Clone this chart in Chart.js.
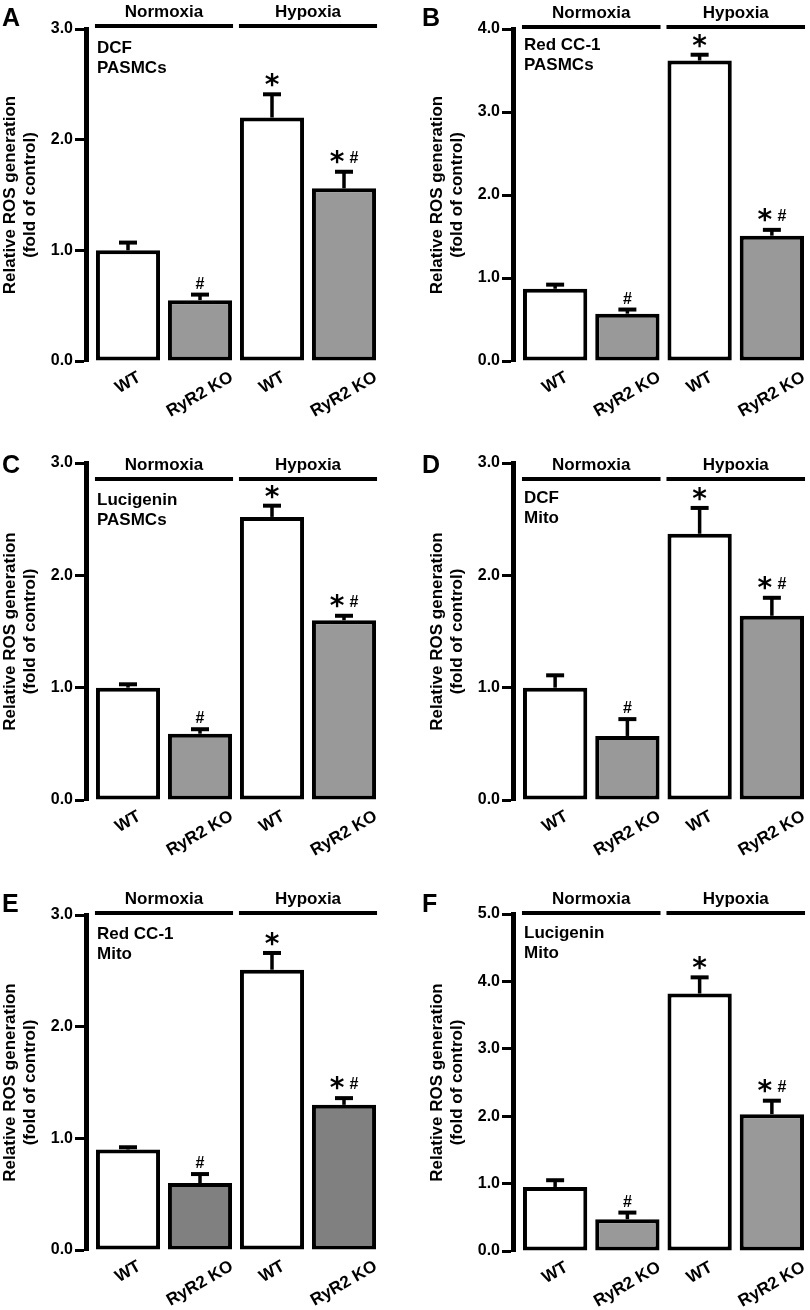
<!DOCTYPE html>
<html>
<head>
<meta charset="utf-8">
<script src="https://cdn.jsdelivr.net/npm/chart.js@4.4.1/dist/chart.umd.min.js"></script>
<style>
  body { margin: 0; background: #fff; width: 810px; height: 1310px; position: relative; overflow: hidden; }
  canvas { position: absolute; }
</style>
</head>
<body>
<canvas id="pA" width="405" height="430" style="left:0;top:0"></canvas>
<canvas id="pB" width="405" height="430" style="left:405px;top:0"></canvas>
<canvas id="pC" width="405" height="440" style="left:0;top:430px"></canvas>
<canvas id="pD" width="405" height="440" style="left:405px;top:430px"></canvas>
<canvas id="pE" width="405" height="440" style="left:0;top:870px"></canvas>
<canvas id="pF" width="405" height="440" style="left:405px;top:870px"></canvas>
<script>
// categories
const groups = ['WT', 'RyR2 KO', 'WT', 'RyR2 KO'];
const conditions = ['Normoxia', 'Hypoxia'];
// significance marks over each bar
const marks = ['', '#', '*', '*#'];

// mean and SEM per panel (fold of control)
const meanA = [1.00, 0.55, 2.20, 1.56];
const semA  = [0.07, 0.05, 0.21, 0.15];
const meanB = [0.87, 0.57, 3.62, 1.51];
const semB  = [0.05, 0.05, 0.07, 0.07];
const meanC = [1.00, 0.59, 2.52, 1.60];
const semC  = [0.03, 0.04, 0.10, 0.04];
const meanD = [1.00, 0.57, 2.37, 1.64];
const semD  = [0.11, 0.15, 0.23, 0.16];
const meanE = [0.90, 0.60, 2.51, 1.30];
const semE  = [0.02, 0.08, 0.15, 0.06];
const meanF = [0.95, 0.47, 3.82, 2.03];
const semF  = [0.10, 0.10, 0.24, 0.20];

// y axis maxima and probe labels
const yMax = [3, 4, 3, 3, 3, 5];
const probes = [
  ['DCF', 'PASMCs'],
  ['Red CC-1', 'PASMCs'],
  ['Lucigenin', 'PASMCs'],
  ['DCF', 'Mito'],
  ['Red CC-1', 'Mito'],
  ['Lucigenin', 'Mito']
];
const letters = ['A', 'B', 'C', 'D', 'E', 'F'];

const means = [meanA, meanB, meanC, meanD, meanE, meanF];
const sems = [semA, semB, semC, semD, semE, semF];

// layout of each panel canvas
const boxes = [
  {id: 'pA', h: 430, padL: 0,  padR: 25, top: 29, bottom: 361, head: -3, note: 19, lx: 2,  ly: 26, gray: '#999999'},
  {id: 'pB', h: 430, padL: 22, padR: 2,  top: 29, bottom: 361, head: -2, note: 16, lx: 17, ly: 26, gray: '#999999'},
  {id: 'pC', h: 440, padL: 0,  padR: 25, top: 33, bottom: 370, head: 16, note: 37, lx: 2,  ly: 43, gray: '#999999'},
  {id: 'pD', h: 440, padL: 22, padR: 2,  top: 33, bottom: 370, head: 16, note: 35, lx: 17, ly: 43, gray: '#999999'},
  {id: 'pE', h: 440, padL: 0,  padR: 25, top: 45, bottom: 380, head: -2, note: 19, lx: 2,  ly: 42, gray: '#808080'},
  {id: 'pF', h: 440, padL: 22, padR: 2,  top: 44, bottom: 381, head: -1, note: 19, lx: 17, ly: 42, gray: '#999999'}
];

const FONT = '"Liberation Sans", Arial, Helvetica, sans-serif';
Chart.defaults.font.family = FONT;
Chart.defaults.color = '#000';

function glyph(ctx, t, cx, cy) {
  const m = ctx.measureText(t);
  ctx.fillText(t, cx, cy + (m.actualBoundingBoxAscent - m.actualBoundingBoxDescent) / 2);
}

const decor = {
  id: 'decor',
  afterLayout(chart) {
    // small gap between the y axis line and the first bar
    const x = chart.scales.x;
    x.left += 6;
    x.configure();
  },
  afterDatasetsDraw(chart, args, o) {
    const {ctx, chartArea: area, scales: {y}} = chart;
    const bars = chart.getDatasetMeta(0).data;
    ctx.save();
    ctx.fillStyle = '#000';
    ctx.strokeStyle = '#000';
    ctx.lineCap = 'butt';

    // error bars + significance
    bars.forEach((bar, i) => {
      const yt = y.getPixelForValue(o.mean[i]);
      const ye = y.getPixelForValue(o.mean[i] + o.sem[i]);
      ctx.lineWidth = 3.5;
      ctx.beginPath(); ctx.moveTo(bar.x, yt); ctx.lineTo(bar.x, ye); ctx.stroke();
      ctx.lineWidth = 4;
      ctx.beginPath(); ctx.moveTo(bar.x - 9, ye); ctx.lineTo(bar.x + 9, ye); ctx.stroke();

      ctx.textAlign = 'center';
      ctx.textBaseline = 'alphabetic';
      const star = 'bold 28px "DejaVu Sans", sans-serif';
      const hash = 'bold 16px ' + FONT;
      if (marks[i] === '*') {
        ctx.font = star; glyph(ctx, '*', bar.x, ye - 14);
      } else if (marks[i] === '#') {
        ctx.font = hash; glyph(ctx, '#', bar.x, ye - 12);
      } else if (marks[i] === '*#') {
        ctx.font = star; glyph(ctx, '*', bar.x - 7, ye - 15);
        ctx.font = hash; glyph(ctx, '#', bar.x + 10, ye - 15);
      }
    });

    // condition headers
    ctx.lineWidth = 4;
    conditions.forEach((c, g) => {
      const b0 = bars[g * 2], b1 = bars[g * 2 + 1];
      const x0 = b0.x - b0.width / 2 - 1, x1 = b1.x + b1.width / 2 + 1;
      const ly = area.top + o.head;
      ctx.beginPath(); ctx.moveTo(x0, ly); ctx.lineTo(x1, ly); ctx.stroke();
      ctx.font = 'bold 17px ' + FONT;
      ctx.textAlign = 'center';
      ctx.textBaseline = 'middle';
      ctx.fillText(c, (x0 + x1) / 2, ly - 14);
    });

    // probe / sample note
    ctx.font = 'bold 17px ' + FONT;
    ctx.textAlign = 'left';
    ctx.textBaseline = 'middle';
    o.probe.forEach((t, k) => ctx.fillText(t, area.left + 11, area.top + o.note + k * 20));

    // rotated group labels
    ctx.font = 'bold 17px ' + FONT;
    const ang = Math.PI / 6;
    bars.forEach((bar, i) => {
      const w = ctx.measureText(groups[i]).width;
      const half = w / 2 * Math.sin(ang) + 6 * Math.cos(ang);
      ctx.save();
      ctx.translate(bar.x, area.bottom + 10 + half);
      ctx.rotate(-ang);
      ctx.textAlign = 'center';
      ctx.textBaseline = 'middle';
      ctx.fillText(groups[i], 0, 0);
      ctx.restore();
    });

    // panel letter
    ctx.font = 'bold 25px ' + FONT;
    ctx.textAlign = 'left';
    ctx.textBaseline = 'alphabetic';
    ctx.fillText(o.letter, o.lx, o.ly);
    ctx.restore();
  }
};

boxes.forEach((b, p) => {
  const ctx = document.getElementById(b.id);
  new Chart(ctx, {
    type: 'bar',
    data: {
      labels: groups,
      datasets: [{
        data: means[p],
        backgroundColor: ['#ffffff', b.gray, '#ffffff', b.gray],
        borderColor: '#000',
        borderWidth: 4,
        borderSkipped: false,
        barPercentage: 0.89,
        categoryPercentage: 1
      }]
    },
    options: {
      responsive: false,
      animation: false,
      events: [],
      layout: {padding: {left: b.padL, right: b.padR, top: b.top, bottom: 0}},
      plugins: {
        legend: {display: false},
        tooltip: {enabled: false},
        decor: {
          mean: means[p], sem: sems[p], probe: probes[p], letter: letters[p],
          head: b.head, note: b.note, lx: b.lx, ly: b.ly
        }
      },
      scales: {
        x: {
          type: 'category',
          grid: {display: false},
          border: {display: false},
          ticks: {display: false},
          afterFit: (s) => { s.height = b.h - b.bottom; }
        },
        y: {
          min: 0,
          max: yMax[p],
          afterFit: (s) => { s.width = 86; },
          border: {display: true, width: 5, color: '#000'},
          grid: {drawOnChartArea: false, drawTicks: true, tickLength: 11, tickWidth: 3, tickColor: '#000'},
          ticks: {
            stepSize: 1,
            padding: 2,
            color: '#000',
            font: {size: 16, weight: 'bold'},
            callback: (v) => v.toFixed(1)
          },
          title: {
            display: true,
            text: ['Relative ROS generation', '(fold of control)'],
            color: '#000',
            font: {size: 17, weight: 'bold', lineHeight: 1.2},
            padding: {top: 0, bottom: 0}
          }
        }
      }
    },
    plugins: [decor]
  });
});
</script>
</body>
</html>
